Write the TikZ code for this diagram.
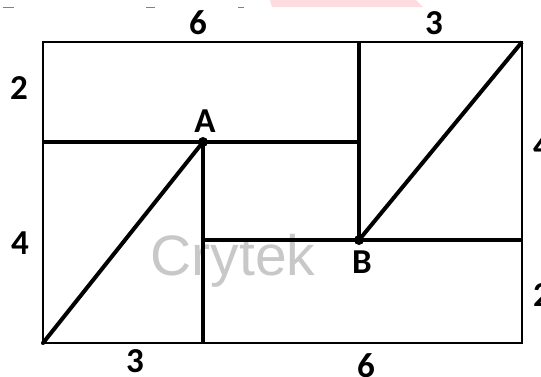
\documentclass[tikz,border=0pt]{standalone}
\usepackage{fontspec}
\setmainfont{Carlito}
\newfontfamily\wmfont{Liberation Sans}
\definecolor{wmgray}{RGB}{200,200,200}
\definecolor{wmpink}{RGB}{252,220,222}
\definecolor{wmred}{RGB}{240,80,80}
\begin{document}
\begin{tikzpicture}[x=1pt,y=-1pt,
  outer/.style={line width=2.5pt},
  inner/.style={line width=4pt},
  lbl/.style={font=\fontsize{35}{40}\selectfont\bfseries, inner sep=0pt},
  dotpt/.style={circle, fill=black, inner sep=0pt, minimum size=10pt}]
\useasboundingbox (0,0) rectangle (541,376);
% faded logo remnants at top
\fill[wmpink] (270,0) -- (416,0) -- (423,7) -- (272,7) -- cycle;
\draw[wmred, line width=1pt] (3,7) -- (14,7);
\draw[wmred, line width=1pt] (146,7) -- (155,7);
\draw[wmred, line width=1pt] (238,7) -- (244,7);
% watermark
\node[text=wmgray, font=\wmfont\fontsize{57}{60}\selectfont, inner sep=0pt, anchor=base] (wm) at (233,275) {Crytek};
% corners and points
\coordinate (TL) at (43,42);
\coordinate (TR) at (522,42);
\coordinate (BR) at (522,343);
\coordinate (BL) at (43,343);
\coordinate (LM) at (43,142);
\coordinate (TM) at (359,42);
\coordinate (RM) at (522,240);
\coordinate (BM) at (203,343);
\node[dotpt] (A) at (203,142) {};
\node[dotpt] (B) at (359,240) {};
% outer rectangle
\draw[outer] (TL) -- (TR) -- (BR) -- (BL) -- cycle;
% inner lines
\draw[inner] (LM) -- (TM |- A);
\draw[inner] (TM) -- (B.center);
\draw[inner] (A.center) -- (BM);
\draw[inner] (A.center |- B.center) -- (RM);
\draw[inner, line cap=round] (BL) -- (A.center);
\draw[inner] (B.center) -- (TR);
% labels
\node[lbl] (lA) at (205,121) {A};
\node[lbl] (lB) at (362,262) {B};
\node[lbl] (t6) at (198,23) {6};
\node[lbl] (t3) at (434,23) {3};
\node[lbl] (l2) at (19,88) {2};
\node[lbl] (l4) at (20,243) {4};
\node[lbl] (r4) at (542,146) {4};
\node[lbl] (r2) at (542,295) {2};
\node[lbl] (b3) at (135,361) {3};
\node[lbl] (b6) at (366,366) {6};
\end{tikzpicture}
\end{document}
